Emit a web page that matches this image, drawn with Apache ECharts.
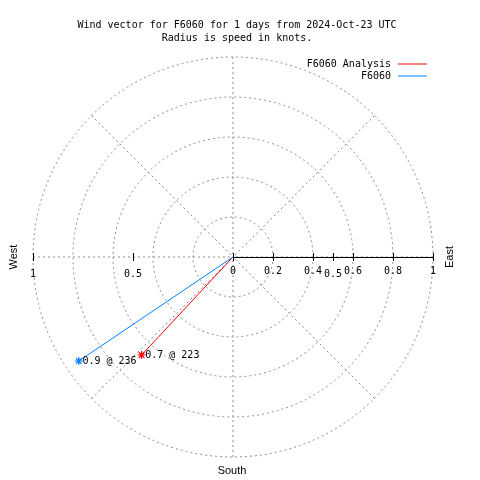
<!DOCTYPE html>
<html>
<head>
<meta charset="utf-8">
<script src="https://cdn.jsdelivr.net/npm/echarts@6/dist/echarts.min.js"></script>
<style>html,body{margin:0;padding:0;background:#fff}#c{width:480px;height:480px}</style>
</head>
<body>
<div id="c"></div>
<script>
// ---- data ----
const titleLines = ['Wind vector for F6060 for 1 days from 2024-Oct-23 UTC', 'Radius is speed in knots.'];
const seriesNames = ['F6060 Analysis', 'F6060'];
const seriesColors = ['#ff0000', '#0080ff'];
const speeds = [0.67, 0.93];        // knots (radius)
const directions = [223, 236];      // degrees, compass
const pointLabels = ['0.7 @ 223', '0.9 @ 236'];
const compassLabels = ['West', 'East', 'South'];

const MONO = '"DejaVu Sans Mono", "Liberation Mono", monospace';
const SANS = '"Liberation Sans", Arial, sans-serif';
const GRID_GREY = '#8c8c8c';
const STAR = 'path://M0,5L10,5M5,0L5,10M1.5,1.5L8.5,8.5M8.5,1.5L1.5,8.5';

const chart = echarts.init(document.getElementById('c'), null, {renderer: 'canvas'});

function tickAxis(grid, min, max, interval, inside, opts) {
  return Object.assign({
    type: 'value', gridIndex: grid, min: min, max: max, interval: interval,
    position: 'bottom',
    axisLine: {show: false},
    axisTick: {show: true, inside: inside, length: 4, lineStyle: {color: '#000', width: 1}},
    axisLabel: {show: false},
    splitLine: {show: false}
  }, opts || {});
}

const series = seriesNames.map((name, i) => ({
  name: name,
  type: 'line',
  coordinateSystem: 'polar',
  symbol: 'none',
  color: seriesColors[i],
  lineStyle: {width: 1, color: seriesColors[i]},
  z: 10,
  animation: false,
  data: [
    {value: [0, directions[i]], symbol: 'none'},
    {
      value: [speeds[i], directions[i]],
      symbol: STAR, symbolSize: 8,
      itemStyle: {color: 'rgba(0,0,0,0)', borderColor: seriesColors[i], borderWidth: 1.2},
      label: {
        show: true, position: 'right', distance: -1,
        formatter: pointLabels[i],
        fontFamily: MONO, fontSize: 10, color: '#000'
      }
    }
  ]
}));

chart.setOption({
  animation: false,
  backgroundColor: '#fff',
  title: {
    text: titleLines.join('\n'),
    left: 232, top: 14, textAlign: 'center',
    textStyle: {fontFamily: MONO, fontSize: 10, fontWeight: 'normal', color: '#000', lineHeight: 13}
  },
  legend: {
    orient: 'vertical', align: 'right',
    right: 48, top: 53,
    icon: 'rect',
    itemWidth: 29, itemHeight: 1, itemGap: 0,
    data: seriesNames,
    textStyle: {fontFamily: MONO, fontSize: 10, color: '#000', padding: [0, 2, 0, 0], lineHeight: 12}
  },
  polar: {center: [233, 257], radius: 200},
  angleAxis: {
    type: 'value', min: 0, max: 360, interval: 45,
    startAngle: 90, clockwise: true,
    axisLine: {show: false}, axisTick: {show: false}, axisLabel: {show: false},
    splitLine: {show: true, lineStyle: {color: GRID_GREY, width: 1, type: [2, 3]}}
  },
  radiusAxis: {
    type: 'value', min: 0, max: 1, interval: 0.2,
    axisLine: {show: false}, axisTick: {show: false}, axisLabel: {show: false},
    splitLine: {show: true, lineStyle: {color: GRID_GREY, width: 1, type: [2, 3]}}
  },
  grid: [
    {left: 233, top: 57, width: 200, height: 200, show: false},
    {left: 33, top: 57, width: 200, height: 200, show: false}
  ],
  yAxis: [
    {type: 'value', gridIndex: 0, min: 0, max: 1, show: false},
    {type: 'value', gridIndex: 1, min: 0, max: 1, show: false}
  ],
  xAxis: [
    tickAxis(0, 0, 1, 0.2, false, {
      axisLine: {show: true, lineStyle: {color: '#000', width: 1}},
      axisLabel: {show: true, margin: 9, fontFamily: MONO, fontSize: 10, color: '#000'}
    }),
    tickAxis(0, 0, 1, 0.2, true),
    tickAxis(0, 0, 1, 0.5, false, {
      axisLabel: {show: true, margin: 12, fontFamily: MONO, fontSize: 10, color: '#000',
        formatter: v => (v === 0.5 ? '0.5' : '')}
    }),
    tickAxis(0, 0, 1, 0.5, true),
    tickAxis(1, -1, 0, 0.5, false, {
      axisLabel: {show: true, margin: 12, fontFamily: MONO, fontSize: 10, color: '#000',
        formatter: v => (v === 0 ? '' : String(Math.abs(v)))}
    }),
    tickAxis(1, -1, 0, 0.5, true)
  ],
  graphic: [
    {type: 'text', x: 14, y: 257, rotation: Math.PI / 2,
      style: {text: compassLabels[0], font: '11px ' + SANS, fill: '#000', align: 'center', verticalAlign: 'middle'}},
    {type: 'text', x: 450, y: 257, rotation: Math.PI / 2,
      style: {text: compassLabels[1], font: '11px ' + SANS, fill: '#000', align: 'center', verticalAlign: 'middle'}},
    {type: 'text', x: 232, y: 471,
      style: {text: compassLabels[2], font: '11px ' + SANS, fill: '#000', align: 'center', verticalAlign: 'middle'}}
  ],
  series: series
});
</script>
</body>
</html>
